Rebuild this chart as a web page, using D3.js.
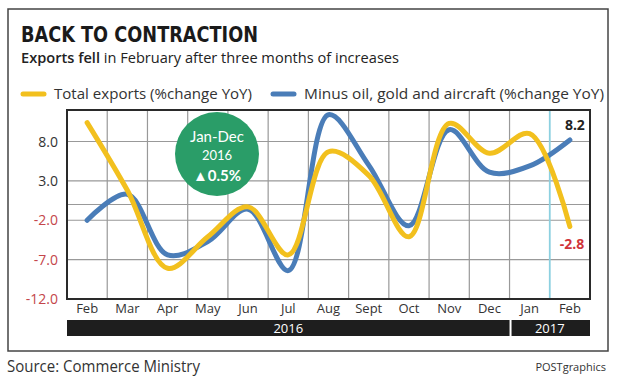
<!DOCTYPE html>
<html>
<head>
<meta charset="utf-8">
<script src="https://cdn.jsdelivr.net/npm/d3@7"></script>
<style>
  body { margin: 0; background: #fff; }
  text { font-family: "Open Sans", Lato, sans-serif; }
</style>
</head>
<body>
<svg width="620" height="386"></svg>
<script>
const months = ["Feb", "Mar", "Apr", "May", "Jun", "Jul", "Aug", "Sept", "Oct", "Nov", "Dec", "Jan", "Feb"];
const years = [{ label: "2016", from: 0, to: 10 }, { label: "2017", from: 11, to: 12 }];
const totalExports = [10.4, 1.8, -8.1, -4.1, -0.3, -6.4, 6.7, 3.7, -4.1, 10.3, 6.5, 9.0, -2.8];
const minusOilGold = [-2.0, 1.3, -6.4, -4.7, -0.6, -8.4, 11.4, 5.0, -2.7, 9.5, 4.1, 4.9, 8.2];
const yTicks = [8, 3, -2, -7, -12];

const svg = d3.select("svg");

// outer frame
svg.append("rect")
  .attr("x", 8).attr("y", 9)
  .attr("width", 600).attr("height", 342)
  .attr("fill", "none").attr("stroke", "#444").attr("stroke-width", 1.5);

svg.append("text")
  .attr("x", 21).attr("y", 42)
  .style("font-family", "'Liberation Sans Narrow', 'DejaVu Sans Condensed', sans-serif")
  .attr("font-weight", "bold").attr("font-size", 22)
  .attr("textLength", 237).attr("lengthAdjust", "spacingAndGlyphs")
  .attr("fill", "#1a1a1a")
  .text("BACK TO CONTRACTION");

const sub = svg.append("text")
  .attr("x", 21).attr("y", 63)
  .attr("font-size", 15).attr("fill", "#222")
  .attr("textLength", 378).attr("lengthAdjust", "spacingAndGlyphs");
sub.append("tspan").attr("font-weight", 600).text("Exports fell");
sub.append("tspan").text(" in February after three months of increases");

// legend
const legend = [
  { label: "Total exports (%change YoY)", color: "#f2c01e", x: 23, w: 198 },
  { label: "Minus oil, gold and aircraft (%change YoY)", color: "#4a7db8", x: 273, w: 300 }
];
const lg = svg.selectAll("g.legend").data(legend).enter().append("g")
  .attr("transform", d => `translate(${d.x},94)`);
lg.append("line")
  .attr("x1", 0).attr("x2", 21)
  .attr("stroke", d => d.color).attr("stroke-width", 5).attr("stroke-linecap", "round");
lg.append("text")
  .attr("x", 31).attr("y", 5)
  .attr("font-size", 15).attr("fill", "#333")
  .attr("textLength", d => d.w).attr("lengthAdjust", "spacingAndGlyphs")
  .text(d => d.label);

// scales
const x = d3.scaleBand()
  .domain(d3.range(months.length))
  .range([67, 590]);

const y = d3.scaleLinear()
  .domain([-12, 12])
  .range([299, 110]);

// horizontal grid
const hLines = yTicks.concat([0]);
svg.append("g").selectAll("line").data(hLines).enter().append("line")
  .attr("x1", x.range()[0]).attr("x2", x.range()[1])
  .attr("y1", d => y(d)).attr("y2", d => y(d))
  .attr("stroke", "#999").attr("stroke-width", 1.2);

// vertical grid at band boundaries
const bounds = d3.range(1, months.length);
svg.append("g").selectAll("line").data(bounds).enter().append("line")
  .attr("x1", d => x(d)).attr("x2", d => x(d))
  .attr("y1", y(12)).attr("y2", y(-12))
  .attr("stroke", d => d === 12 ? "#8cd0e0" : "#999")
  .attr("stroke-width", d => d === 12 ? 1.8 : 1.2);

// plot frame
svg.append("rect")
  .attr("x", x.range()[0]).attr("y", y(12))
  .attr("width", x.range()[1] - x.range()[0]).attr("height", y(-12) - y(12))
  .attr("fill", "none").attr("stroke", "#2a2a2a").attr("stroke-width", 2);

// y labels
svg.append("g").selectAll("text").data(yTicks).enter().append("text")
  .attr("x", 58).attr("y", d => y(d) + 5)
  .attr("text-anchor", "end").attr("font-size", 14)
  .attr("fill", d => d < 0 ? "#c4464b" : "#333")
  .text(d => d.toFixed(1));

// month labels
svg.append("g").selectAll("text").data(months).enter().append("text")
  .attr("x", (d, i) => x(i) + x.bandwidth() / 2)
  .attr("y", 313)
  .attr("text-anchor", "middle").attr("font-size", 13).attr("fill", "#333")
  .text(d => d);

// year bars
const yb = svg.append("g").selectAll("g").data(years).enter().append("g");
yb.append("rect")
  .attr("x", d => x(d.from) + (d.from ? 2 : 0))
  .attr("y", 320)
  .attr("width", d => x(d.to) + x.bandwidth() - x(d.from) - (d.from ? 2 : 0))
  .attr("height", 16)
  .attr("fill", "#1e1e1e");
yb.append("text")
  .attr("x", d => (x(d.from) + x(d.to) + x.bandwidth()) / 2)
  .attr("y", 333)
  .attr("text-anchor", "middle").attr("font-size", 13).attr("fill", "#fff")
  .text(d => d.label);

// lines
const line = d3.line()
  .x((d, i) => x(i) + x.bandwidth() / 2)
  .y(d => y(d))
  .curve(d3.curveCatmullRom.alpha(0.5));

svg.append("path").datum(minusOilGold)
  .attr("d", line).attr("fill", "none")
  .attr("stroke", "#4a7db8").attr("stroke-width", 5).attr("stroke-linecap", "round");

svg.append("path").datum(totalExports)
  .attr("d", line).attr("fill", "none")
  .attr("stroke", "#f2c01e").attr("stroke-width", 5).attr("stroke-linecap", "round");

// end labels
const last = months.length - 1;
svg.append("text")
  .attr("x", x(last) + x.bandwidth() / 2 + 5).attr("y", y(minusOilGold[last]) - 10)
  .attr("text-anchor", "middle").attr("font-size", 14).attr("font-weight", 700).attr("fill", "#222")
  .text(minusOilGold[last].toFixed(1));
svg.append("text")
  .attr("x", x(last) + x.bandwidth() / 2 + 2).attr("y", y(totalExports[last]) + 22)
  .attr("text-anchor", "middle").attr("font-size", 14).attr("font-weight", 700).attr("fill", "#d0343a")
  .text(totalExports[last].toFixed(1));

// bubble
const bubble = svg.append("g").attr("transform", "translate(217,154)");
bubble.append("circle").attr("r", 42).attr("fill", "#2a9d68");
bubble.append("text").attr("y", -12).attr("text-anchor", "middle")
  .style("font-family", "Lato, sans-serif")
  .attr("font-size", 15).attr("fill", "#fff").text("Jan-Dec");
bubble.append("text").attr("y", 6).attr("text-anchor", "middle")
  .style("font-family", "Lato, sans-serif")
  .attr("font-size", 13).attr("fill", "#fff").text("2016");
bubble.append("text").attr("y", 27).attr("text-anchor", "middle")
  .style("font-family", "Lato, sans-serif")
  .attr("font-size", 15).attr("font-weight", 700).attr("fill", "#fff").text("▲0.5%");

// footer
svg.append("text")
  .attr("x", 7).attr("y", 372)
  .attr("font-size", 15.5).attr("fill", "#333")
  .attr("textLength", 193).attr("lengthAdjust", "spacingAndGlyphs")
  .text("Source: Commerce Ministry");
svg.append("text")
  .attr("x", 606).attr("y", 371)
  .attr("text-anchor", "end").attr("font-size", 11).attr("fill", "#333")
  .text("POSTgraphics");
</script>
</body>
</html>
